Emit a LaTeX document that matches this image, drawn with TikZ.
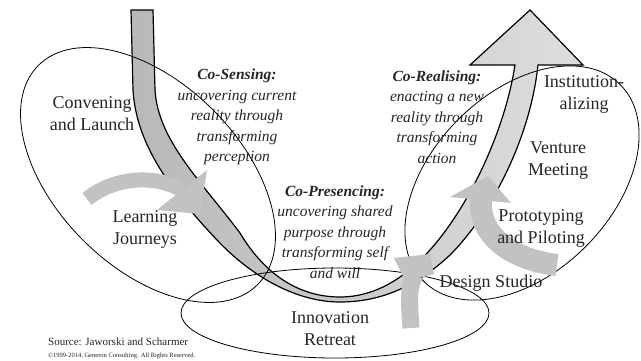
\documentclass[tikz,border=0pt]{standalone}
\usepackage{fontspec}
\setmainfont{Liberation Serif}
\definecolor{arrowgray}{HTML}{C2C2C2}
\definecolor{bandleft}{HTML}{B8B8B8}
\definecolor{bandright}{HTML}{DEDEDE}
\definecolor{txt}{HTML}{262626}
\begin{document}
\begin{tikzpicture}[x=1pt,y=-1pt,
  ell/.style={draw=black, line width=0.8pt},
  band/.style={draw=black, line width=1.2pt, line join=miter, left color=bandleft, right color=bandright},
  garrow/.style={fill=arrowgray, draw=none},
  gshaft/.style={draw=arrowgray, line cap=butt},
  lbl/.style={font=\fontsize{18}{22}\selectfont, align=center, text=txt, inner sep=0pt},
  itl/.style={font=\fontsize{15.5}{20.5}\selectfont\itshape, align=center, text=txt, inner sep=0pt},
  src/.style={font=\fontsize{11}{13}\selectfont, text=txt, inner sep=0pt, anchor=west}]
\useasboundingbox (0,0) rectangle (641,360);
\fill[white] (0,0) rectangle (641,360);

% U-shaped band with arrow head
\path[band] (131,10) -- (133,90)
  .. controls (136,140) and (165,185) .. (217,240)
  .. controls (250,275) and (295,302) .. (340,302)
  .. controls (385,302) and (420,283) .. (450,255)
  .. controls (490,215) and (530,140) .. (538,65)
  -- (583,65) -- (530,10) -- (470,65) -- (515,65)
  .. controls (505,130) and (470,205) .. (430,250)
  .. controls (405,278) and (375,297) .. (340,297)
  .. controls (295,297) and (262,270) .. (240,233)
  .. controls (200,180) and (158,140) .. (155,90)
  -- (153,10) -- cycle;

% ellipses
\draw[ell, rotate around={-45:(148,175)}] (148,175) ellipse [x radius=155, y radius=92];
\draw[ell, rotate around={45:(522,183)}] (522,183) ellipse [x radius=139, y radius=90];
\draw[ell] (335,313) ellipse [x radius=154, y radius=45];

% curved gray arrows
\draw[gshaft, line width=15pt] (87,199) .. controls (110,180) and (150,172) .. (182,190);
\fill[garrow] (207,170) -- (157,210) -- (200,214) -- cycle;

\draw[gshaft, line width=22pt] (557,265) .. controls (515,260) and (478,238) .. (481,199);
\fill[garrow] (450,197) -- (488,176) -- (511,203) -- cycle;

\draw[gshaft, line width=17pt] (411,328) .. controls (409,300) and (408,288) .. (415,275);
\fill[garrow] (394,258) -- (430,254) -- (434,274) -- (424,277) -- (405,280) -- cycle;

% labels
\node[lbl] (conv) at (92,114) {Convening\\and Launch};
\node[lbl] (learn) at (145,229) {Learning\\Journeys};
\node[lbl] (innov) at (330,329) {Innovation\\Retreat};
\node[lbl] (design) at (491,283) {Design Studio};
\node[lbl] (proto) at (541,228) {Prototyping\\and Piloting};
\node[lbl] (vent) at (558,161) {Venture\\Meeting};
\node[lbl] (inst) at (584,94) {Institution-\\alizing};

\node[itl] (sens) at (237,117) {\textbf{Co-Sensing:}\\uncovering current\\reality through\\transforming\\perception};
\node[itl] (real) at (437,117) {\textbf{Co-Realising:}\\enacting a new\\reality through\\transforming\\action};
\node[itl] (pres) at (335,232) {\textbf{Co-Presencing:}\\uncovering shared\\purpose through\\transforming self\\and will};

\node[src] (source) at (48,342) {Source: Jaworski and Scharmer};
\node[src, font=\fontsize{6.5}{8}\selectfont] (copy) at (48,356) {©1999-2014, Generon Consulting. All Rights Reserved.};
\end{tikzpicture}
\end{document}
